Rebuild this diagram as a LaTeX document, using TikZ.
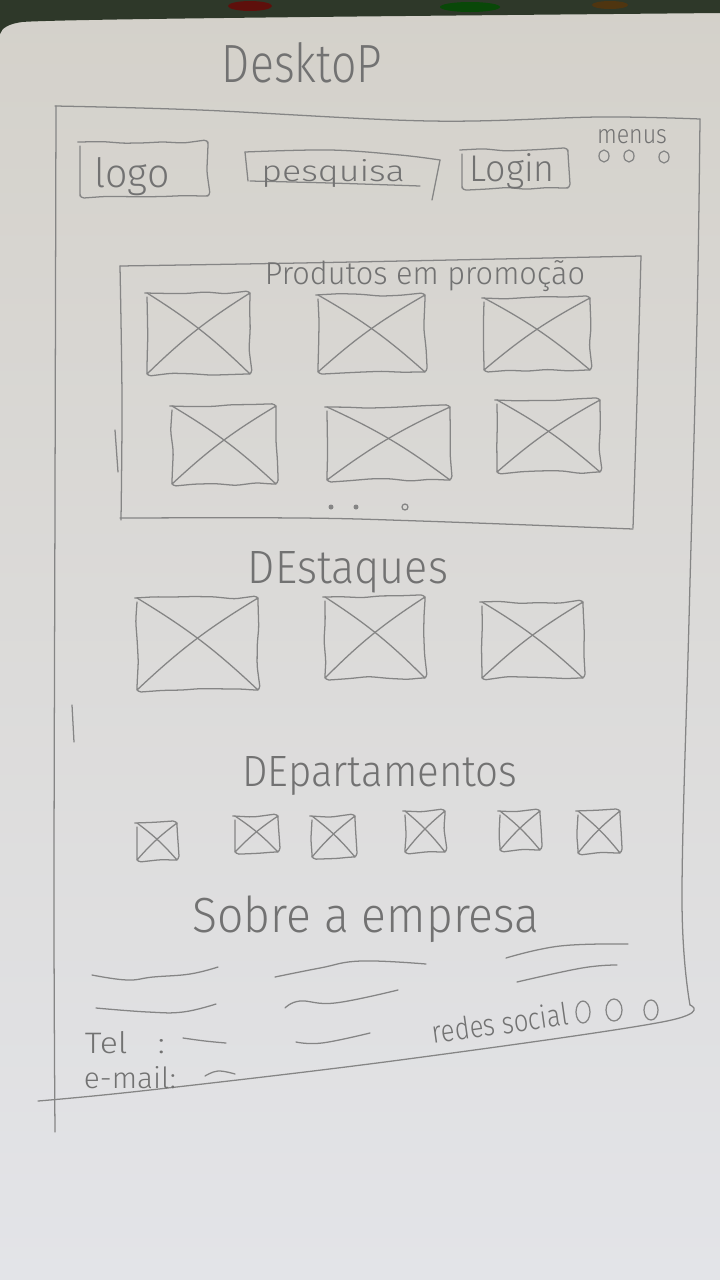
\documentclass[tikz,border=0pt]{standalone}
\usepackage{fontspec}
\setmainfont{Fira Sans Light}
\usetikzlibrary{decorations.pathmorphing}

\definecolor{paper}{HTML}{E3E4E8}
\definecolor{papertop}{HTML}{D4D1CA}
\definecolor{lead}{HTML}{858585}
\definecolor{leadtext}{HTML}{727272}
\definecolor{cloth}{HTML}{2E3829}

\tikzset{
  pencil/.style={draw=lead, line width=0.38mm, line cap=round, line join=round},
  wobble/.style={decorate, decoration={random steps, segment length=6mm, amplitude=0.45mm}, rounded corners=1.2mm},
  hand/.style={text=leadtext, inner sep=0pt},
}

% hand-lettered label squeezed to a given width and height
\newcommand\scribble[3]{\resizebox{#1}{#2}{#3}}

% crossed-out image placeholder
\newcommand\crossbox[4]{%
  \draw[pencil,wobble] (#1,#2) rectangle (#3,#4);
  \draw[pencil] (#1,#2) to[bend left=6] (#3,#4);
  \draw[pencil] (#3,#2) to[bend right=6] (#1,#4);
}

\begin{document}
\begin{tikzpicture}[x=0.3mm,y=-0.3mm]
\pgfmathsetseed{11}
\useasboundingbox (0,0) rectangle (720,1280);

% sheet of paper and the cloth behind it
\shade[top color=papertop, bottom color=paper] (0,0) rectangle (720,1280);
\fill[cloth] (0,0) -- (720,0) -- (720,13) .. controls (400,16) and (60,19) .. (22,22)
  .. controls (8,24) and (2,28) .. (0,34) -- cycle;
\fill[red!45!black, opacity=0.7] (250,6) ellipse (22 and 5);
\fill[green!30!black, opacity=0.8] (470,7) ellipse (30 and 5);
\fill[orange!40!black, opacity=0.6] (610,5) ellipse (18 and 4);

% page title
\node[hand] (title) at (302,63) {\scribble{48mm}{12mm}{DesktoP}};

% outer page frame
\draw[pencil] plot[smooth, tension=0.6] coordinates {(55,106) (200,110) (430,121) (600,117) (700,119)};
\draw[pencil] plot[smooth, tension=0.6] coordinates {(700,119) (697,320) (689,620) (682,900) (690,1005)};
\draw[pencil] plot[smooth, tension=0.6] coordinates {(690,1005) (662,1022) (400,1060) (150,1090) (38,1101)};
\draw[pencil] plot[smooth, tension=0.6] coordinates {(56,106) (55,500) (54,900) (55,1132)};
\draw[pencil] (72,705) -- (74,742);

% header: logo, search, login, menus
\draw[pencil,wobble] (80,142) rectangle (208,196);
\node[hand] (logo) at (132,177) {\scribble{22.5mm}{9mm}{logo}};

\draw[pencil] plot[smooth, tension=0.6] coordinates {(245,152) (330,150) (400,155) (440,160)};
\draw[pencil] (245,152) -- (248,181);
\draw[pencil] plot[smooth, tension=0.6] coordinates {(250,181) (330,183) (420,186)};
\draw[pencil] (440,160) -- (432,200);
\node[hand] (search) at (333,173) {\scribble{43mm}{6.6mm}{pesquisa}};

\draw[pencil,wobble] (462,150) rectangle (568,188);
\node[hand] (login) at (512,171) {\scribble{25.5mm}{8.4mm}{Login}};

\node[hand] (menus) at (632,137) {\scribble{21mm}{4.2mm}{menus}};
\draw[pencil] (604,156) ellipse (5 and 6);
\draw[pencil] (629,156) ellipse (5 and 6);
\draw[pencil] (664,157) ellipse (5 and 6);

% products on sale
\draw[pencil] plot[smooth, tension=0.6] coordinates {(120,266) (300,263) (500,259) (641,256)};
\draw[pencil] plot[smooth, tension=0.6] coordinates {(641,256) (637,400) (633,528)};
\draw[pencil] plot[smooth, tension=0.6] coordinates {(120,518) (300,518) (420,521) (633,529)};
\draw[pencil] plot[smooth, tension=0.6] coordinates {(120,266) (122,400) (121,520)};
\draw[pencil] (115,430) -- (118,472);
\node[hand] (sale) at (425,276) {\scribble{96mm}{7.2mm}{Produtos em promoção}};

\crossbox{147}{293}{250}{374}
\crossbox{318}{295}{425}{372}
\crossbox{484}{298}{590}{370}
\crossbox{172}{406}{276}{484}
\crossbox{327}{407}{450}{480}
\crossbox{497}{400}{600}{472}

\fill[lead] (331,507) circle (2.5);
\fill[lead] (356,507) circle (2.5);
\draw[pencil] (405,507) circle (3);

% highlights
\node[hand] (highlights) at (348,572) {\scribble{60mm}{9.6mm}{DEstaques}};
\crossbox{137}{598}{258}{690}
\crossbox{325}{597}{425}{678}
\crossbox{482}{602}{583}{678}

% departments
\node[hand] (departments) at (380,776) {\scribble{82.5mm}{9mm}{DEpartamentos}};
\crossbox{137}{823}{177}{860}
\crossbox{235}{816}{278}{852}
\crossbox{312}{816}{355}{857}
\crossbox{405}{811}{445}{852}
\crossbox{500}{811}{540}{850}
\crossbox{578}{811}{620}{853}

% about the company
\node[hand] (about) at (366,919) {\scribble{104mm}{11mm}{Sobre a empresa}};
\draw[pencil] plot[smooth, tension=0.7] coordinates {(92,975) (127,980) (153,977) (190,974) (218,967)};
\draw[pencil] plot[smooth, tension=0.7] coordinates {(96,1008) (148,1012) (183,1012) (216,1004)};
\draw[pencil] plot[smooth, tension=0.7] coordinates {(275,977) (320,968) (361,961) (426,964)};
\draw[pencil] plot[smooth, tension=0.7] coordinates {(285,1008) (300,1001) (335,1003) (398,990)};
\draw[pencil] plot[smooth, tension=0.7] coordinates {(506,958) (560,946) (628,944)};
\draw[pencil] plot[smooth, tension=0.7] coordinates {(517,982) (582,968) (617,965)};
\draw[pencil] plot[smooth, tension=0.7] coordinates {(296,1042) (322,1043) (370,1033)};

% footer: contact and social links
\node[hand] (phone) at (125,1043) {\scribble{24mm}{6.6mm}{Tel\hspace{0.9em}:}};
\draw[pencil] plot[smooth, tension=0.7] coordinates {(183,1038) (205,1041) (226,1043)};
\node[hand] (mail) at (130,1078) {\scribble{27.6mm}{6.6mm}{e-mail:}};
\draw[pencil] plot[smooth, tension=0.7] coordinates {(205,1076) (218,1071) (235,1074)};

\node[hand, rotate=8] (social) at (500,1023) {\scribble{41mm}{7mm}{redes social}};
\draw[pencil] (583,1012) ellipse (7 and 11);
\draw[pencil] (614,1010) ellipse (8 and 11);
\draw[pencil] (651,1010) ellipse (7 and 10);
\end{tikzpicture}
\end{document}
